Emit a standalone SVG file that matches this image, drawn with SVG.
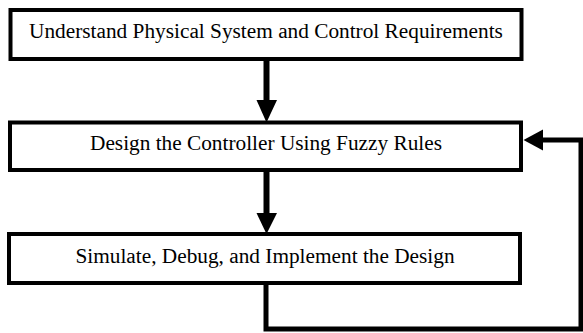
<svg xmlns="http://www.w3.org/2000/svg" width="583" height="333" viewBox="0 0 583 333">
<style>
.box{fill:#fff;stroke:#000;stroke-width:4}
.lbl{font-family:"Liberation Serif","Times New Roman",serif;font-size:21.3px;fill:#000;text-anchor:middle}
.conn{fill:none;stroke:#000;stroke-linejoin:miter}
.head{fill:#000}
</style>
<rect width="583" height="333" fill="#fff"/>
<g id="connectors">
<line class="conn" x1="266.5" y1="59" x2="266.5" y2="101" stroke-width="6"/>
<polygon class="head" points="256.5,100 277,100 266.5,122.5"/>
<line class="conn" x1="266.5" y1="170" x2="266.5" y2="214" stroke-width="6"/>
<polygon class="head" points="256.5,213 277,213 266.5,234"/>
<polyline class="conn" points="266,283 266,329 581,329 581,140 542,140" stroke-width="5"/>
<polygon class="head" points="543,129.5 543,150.5 523.5,140"/>
</g>
<g id="node1">
<rect class="box" x="10.5" y="10" width="511" height="49"/>
<text class="lbl" x="266" y="37.5">Understand Physical System and Control Requirements</text>
</g>
<g id="node2">
<rect class="box" x="10" y="122.5" width="511" height="47.5"/>
<text class="lbl" x="266" y="150">Design the Controller Using Fuzzy Rules</text>
</g>
<g id="node3">
<rect class="box" x="9" y="234" width="511" height="49"/>
<text class="lbl" x="265" y="262.5">Simulate, Debug, and Implement the Design</text>
</g>
</svg>
